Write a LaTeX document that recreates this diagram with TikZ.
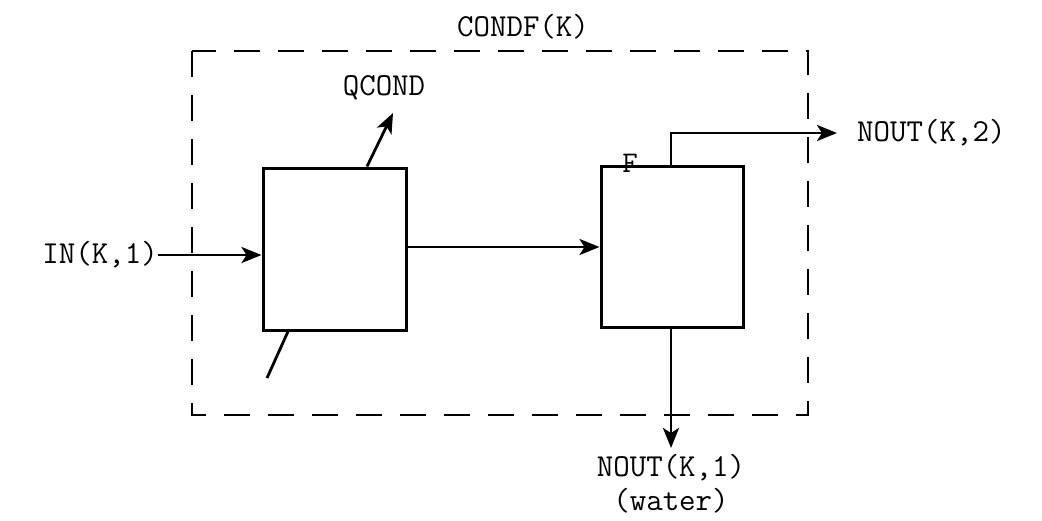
\documentclass[tikz,border=0pt]{standalone}
\usepackage{fontspec}
\usetikzlibrary{arrows.meta}
\begin{document}
\begin{tikzpicture}[x=1pt,y=-1pt,
  lbl/.style={font=\ttfamily\fontsize{32}{34}\selectfont, inner sep=0pt},
  blockbox/.style={draw, line width=3pt, minimum width=143pt, minimum height=162pt, inner sep=0pt},
  conn/.style={line width=2.8pt},
  arr/.style={conn, -{Stealth[length=20pt,width=16pt,inset=5pt]}},
  outline/.style={line width=2.8pt, dash pattern=on 26pt off 18pt}]
\useasboundingbox (0,0) rectangle (1042,520);
% dashed enclosure
\coordinate (dtl) at (192,51);
\coordinate (dbr) at (808,415);
\draw[outline] (dtl) rectangle (dbr);
\node[lbl] (condf) at (523,27) {CONDF(K)};
% blocks
\node[blockbox] (lb) at (334.5,249) {};
\node[blockbox, minimum width=142pt, minimum height=161pt] (rb) at (672,246.5) {};
\node[lbl, font=\ttfamily\fontsize{30}{30}\selectfont, anchor=south] (f) at (630,173) {F};
% labels
\node[lbl] (qcond) at (384,88) {QCOND};
\node[lbl, anchor=east] (in) at (158,255) {IN(K,1)};
\node[lbl, anchor=west] (nout2) at (857,133) {NOUT(K,2)};
\node[lbl, align=center] (nout1) at (671,484) {NOUT(K,1)\\(water)};
% coordinates
\coordinate (qtip) at (393,113);
\coordinate (slant) at (267,378);
\coordinate (ntip) at (837,133);
\coordinate (wtip) at (671,448);
% connectors
\draw[arr] (in.east) -- (in.east -| lb.west);
\draw[arr] ([yshift=2pt]lb.east) -- ([yshift=2pt]lb.east -| rb.west);
\draw[arr] ([xshift=32.5pt]lb.north) -- (qtip);
\draw[conn] ([xshift=-46.5pt]lb.south) -- (slant);
\draw[arr] ([xshift=-1pt]rb.north) |- (ntip);
\draw[arr] ([xshift=-1pt]rb.south) -- (wtip);
\end{tikzpicture}
\end{document}
